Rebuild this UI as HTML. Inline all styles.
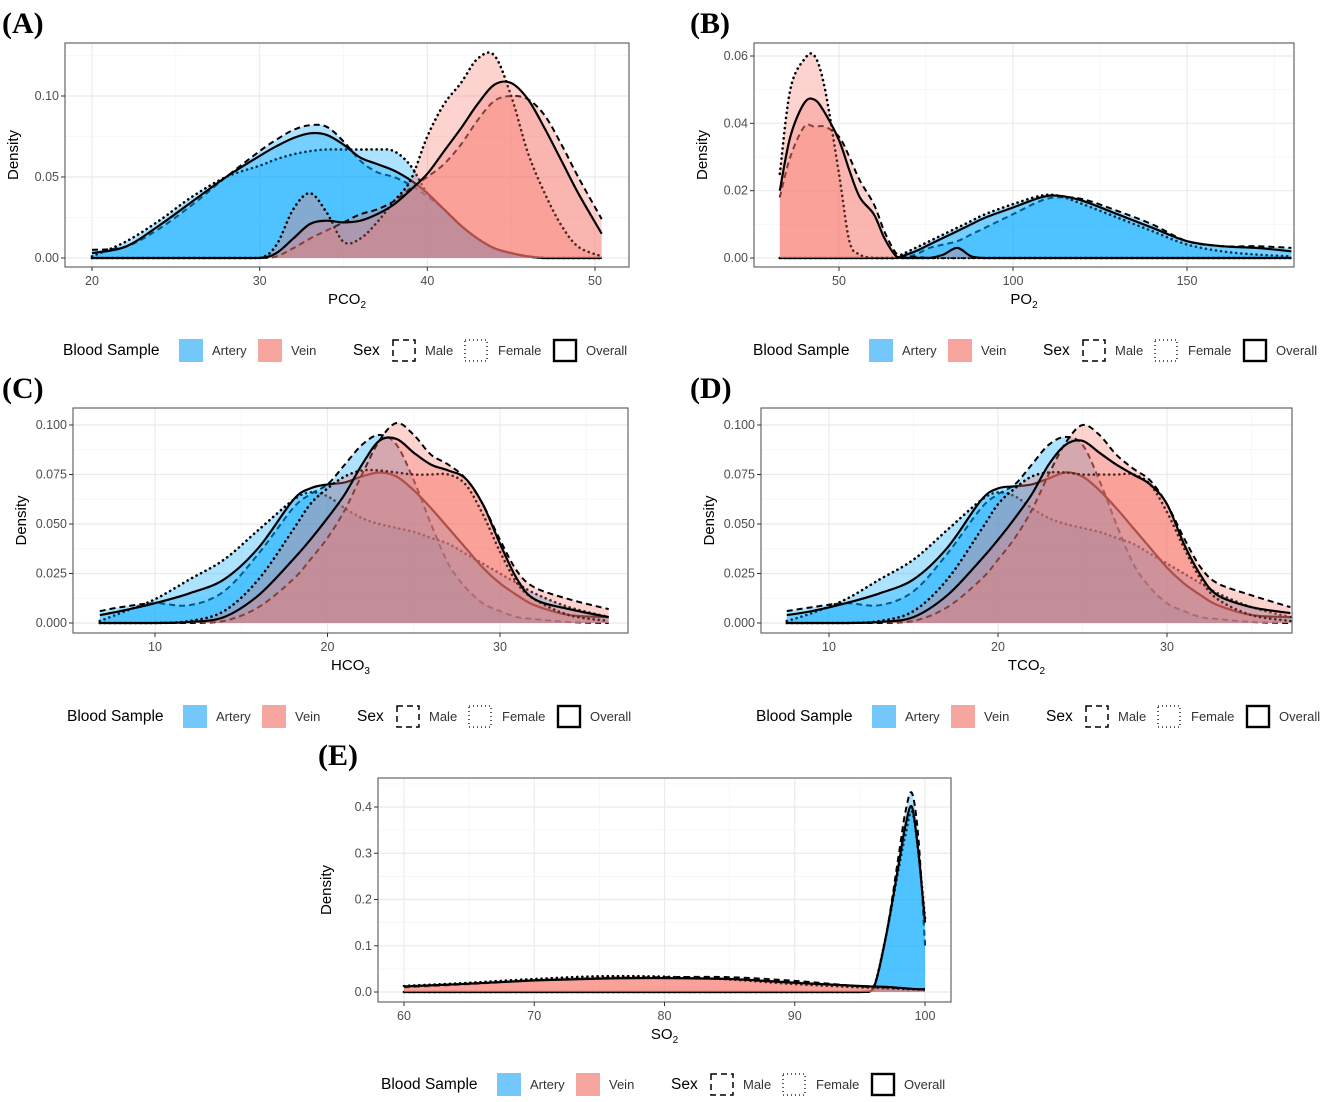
<!DOCTYPE html>
<html><head><meta charset="utf-8">
<style>
html,body{margin:0;padding:0;background:#fff;}
svg{display:block;font-family:"Liberation Sans",sans-serif;}
</style></head>
<body>
<svg id="fig" width="1325" height="1102" viewBox="0 0 1325 1102" xmlns="http://www.w3.org/2000/svg"></svg>
<script>
// ---------- DATA ----------
const pco2X = [20,22,24,26,28,30,31,32,33,34,35,36,37,38,39,40,41,42,43,44,45,46,47,48,49,50.4];
const pco2ArteryMale    = [0.005,0.007,0.018,0.033,0.05,0.066,0.073,0.079,0.082,0.081,0.072,0.06,0.053,0.05,0.045,0.038,0.03,0.02,0.012,0.006,0.003,0.001,0,0,0,0];
const pco2ArteryFemale  = [0.001,0.01,0.023,0.038,0.05,0.057,0.061,0.064,0.066,0.067,0.067,0.067,0.067,0.066,0.057,0.04,0.03,0.02,0.012,0.006,0.003,0.001,0,0,0,0];
const pco2ArteryOverall = [0.003,0.007,0.02,0.035,0.05,0.063,0.069,0.074,0.077,0.076,0.07,0.062,0.058,0.054,0.048,0.04,0.03,0.02,0.012,0.006,0.003,0.001,0,0,0,0];
const pco2VeinMale      = [0,0,0,0,0,0,0.001,0.006,0.012,0.017,0.022,0.027,0.03,0.035,0.043,0.05,0.058,0.07,0.085,0.097,0.1,0.098,0.088,0.07,0.05,0.024];
const pco2VeinFemale    = [0,0,0,0,0,0,0.008,0.03,0.04,0.028,0.01,0.012,0.022,0.035,0.048,0.075,0.095,0.108,0.123,0.125,0.1,0.065,0.04,0.02,0.007,0.001];
const pco2VeinOverall   = [0,0,0,0,0,0,0.003,0.012,0.021,0.023,0.022,0.023,0.027,0.033,0.042,0.052,0.066,0.08,0.095,0.107,0.108,0.098,0.08,0.06,0.04,0.015];

const po2X = [33,36,40,43,46,50,53,56,60,63,66,68,72,76,80,84,88,92,100,108,113,120,130,140,150,160,170,180];
const po2ArteryMale    = [0,0,0,0,0,0,0,0,0,0,0,0,0.001,0.003,0.004,0.005,0.007,0.009,0.013,0.017,0.018,0.0175,0.014,0.01,0.005,0.0035,0.0035,0.003];
const po2ArteryFemale  = [0,0,0,0,0,0,0,0,0,0,0,0.001,0.003,0.005,0.007,0.009,0.011,0.013,0.016,0.0185,0.0185,0.016,0.012,0.008,0.004,0.002,0.001,0.0005];
const po2ArteryOverall = [0,0,0,0,0,0,0,0,0,0,0,0.0005,0.002,0.004,0.006,0.008,0.01,0.012,0.015,0.018,0.0185,0.017,0.013,0.009,0.005,0.0035,0.003,0.002];
const po2VeinMale      = [0.018,0.03,0.039,0.039,0.039,0.036,0.03,0.023,0.016,0.008,0.002,0.0005,0.0003,0,0,0,0,0,0,0,0,0,0,0,0,0,0,0];
const po2VeinFemale    = [0.025,0.05,0.059,0.06,0.05,0.025,0.005,0.001,0,0,0,0,0,0,0,0,0,0,0,0,0,0,0,0,0,0,0,0];
const po2VeinOverall   = [0.02,0.036,0.046,0.047,0.043,0.035,0.026,0.018,0.013,0.006,0.001,0,0,0,0.001,0.003,0.0005,0,0,0,0,0,0,0,0,0,0,0];

const hco3X = [6.8,8,10,12,14,16,18,19,20,21,22,23,24,25,26,27,28,29,30,31,32,34,36.3];
const hco3ArteryMale    = [0.006,0.008,0.01,0.009,0.016,0.035,0.058,0.065,0.07,0.08,0.09,0.095,0.09,0.072,0.05,0.03,0.018,0.01,0.006,0.003,0.002,0.0005,0];
const hco3ArteryFemale  = [0.001,0.005,0.012,0.022,0.032,0.047,0.062,0.066,0.064,0.058,0.053,0.05,0.048,0.046,0.043,0.04,0.035,0.03,0.025,0.02,0.015,0.008,0.003];
const hco3ArteryOverall = [0.004,0.006,0.01,0.015,0.022,0.038,0.062,0.068,0.07,0.071,0.074,0.076,0.074,0.067,0.058,0.048,0.038,0.028,0.02,0.014,0.009,0.004,0.003];
const hco3VeinMale      = [0,0,0,0,0.001,0.008,0.022,0.032,0.043,0.057,0.075,0.092,0.101,0.095,0.085,0.08,0.073,0.06,0.042,0.026,0.018,0.012,0.007];
const hco3VeinFemale    = [0,0,0,0.001,0.006,0.022,0.047,0.06,0.068,0.074,0.077,0.077,0.076,0.075,0.075,0.075,0.07,0.055,0.036,0.02,0.012,0.004,0.001];
const hco3VeinOverall   = [0,0,0,0.0005,0.003,0.014,0.032,0.042,0.053,0.065,0.08,0.092,0.093,0.086,0.08,0.077,0.073,0.06,0.04,0.022,0.012,0.007,0.003];

const tco2X = [7.5,9,11,13,15,17,19,20,21,22,23,24,25,26,27,28,29,30,31,32,33,35,37.3];
const tco2ArteryMale    = [0.006,0.008,0.01,0.009,0.016,0.035,0.058,0.065,0.07,0.08,0.09,0.094,0.09,0.072,0.05,0.03,0.018,0.01,0.006,0.003,0.002,0.0005,0];
const tco2ArteryFemale  = [0.001,0.005,0.012,0.022,0.032,0.047,0.062,0.066,0.064,0.058,0.053,0.05,0.048,0.046,0.043,0.04,0.035,0.03,0.025,0.02,0.015,0.008,0.003];
const tco2ArteryOverall = [0.004,0.006,0.01,0.015,0.022,0.038,0.062,0.068,0.069,0.07,0.073,0.076,0.074,0.067,0.058,0.048,0.038,0.028,0.02,0.014,0.009,0.004,0.003];
const tco2VeinMale      = [0,0,0,0,0.001,0.008,0.022,0.032,0.043,0.057,0.075,0.091,0.1,0.095,0.085,0.078,0.072,0.06,0.043,0.028,0.02,0.014,0.008];
const tco2VeinFemale    = [0,0,0,0.001,0.006,0.022,0.047,0.06,0.068,0.074,0.076,0.076,0.075,0.075,0.075,0.075,0.07,0.056,0.038,0.022,0.012,0.004,0.001];
const tco2VeinOverall   = [0,0,0,0.0005,0.003,0.014,0.032,0.042,0.053,0.065,0.08,0.09,0.092,0.086,0.08,0.075,0.07,0.06,0.04,0.024,0.014,0.008,0.005];

const so2X = [60,65,70,75,80,85,90,95,96,97,98,98.5,99,99.5,100];
const so2ArteryMale    = [0,0,0,0,0,0,0,0,0.004,0.12,0.3,0.39,0.43,0.33,0.1];
const so2ArteryFemale  = [0,0,0,0,0,0,0,0,0.006,0.12,0.27,0.34,0.39,0.3,0.16];
const so2ArteryOverall = [0,0,0,0,0,0,0,0,0.005,0.12,0.28,0.36,0.4,0.3,0.15];
const so2VeinMale      = [0.01,0.017,0.025,0.03,0.032,0.032,0.024,0.012,0.01,0.009,0.008,0.007,0.007,0.006,0.006];
const so2VeinFemale    = [0.013,0.02,0.028,0.034,0.033,0.027,0.017,0.01,0.009,0.008,0.007,0.006,0.006,0.005,0.005];
const so2VeinOverall   = [0.012,0.018,0.025,0.029,0.03,0.028,0.02,0.013,0.012,0.011,0.009,0.008,0.007,0.006,0.006];

const pco2XTicks = [20,30,40,50];  const pco2YTicks = ["0.00","0.05","0.10"];
const po2XTicks = [50,100,150];    const po2YTicks = ["0.00","0.02","0.04","0.06"];
const hco3XTicks = [10,20,30];     const hco3YTicks = ["0.000","0.025","0.050","0.075","0.100"];
const tco2XTicks = [10,20,30];     const tco2YTicks = ["0.000","0.025","0.050","0.075","0.100"];
const so2XTicks = [60,70,80,90,100]; const so2YTicks = ["0.0","0.1","0.2","0.3","0.4"];

// ---------- RENDER ----------
const NS="http://www.w3.org/2000/svg";
const svg=document.getElementById('fig');
function mk(tag,attrs,parent){const e=document.createElementNS(NS,tag);for(const k in attrs)e.setAttribute(k,attrs[k]);(parent||svg).appendChild(e);return e;}

const panels=[
 {id:'a',label:'(A)',lx:2,ly:33,L:65,R:629,T:43,B:267,x0:20,px0:92,x1:50,px1:595,y0:258,ytop:96,yv:0.1,
  X:pco2X,S:[pco2ArteryMale,pco2ArteryFemale,pco2ArteryOverall,pco2VeinMale,pco2VeinFemale,pco2VeinOverall],
  xt:pco2XTicks,yt:pco2YTicks,title:'PCO',sub:'2',tty:304,legX:63,legY:350},
 {id:'b',label:'(B)',lx:690,ly:33,L:754,R:1294,T:43,B:267,x0:50,px0:839,x1:150,px1:1187,y0:258,ytop:56,yv:0.06,
  X:po2X,S:[po2ArteryMale,po2ArteryFemale,po2ArteryOverall,po2VeinMale,po2VeinFemale,po2VeinOverall],
  xt:po2XTicks,yt:po2YTicks,title:'PO',sub:'2',tty:304,legX:753,legY:350},
 {id:'c',label:'(C)',lx:2,ly:398,L:73,R:628,T:408,B:633,x0:10,px0:155,x1:30,px1:500,y0:623,ytop:425,yv:0.1,
  X:hco3X,S:[hco3ArteryMale,hco3ArteryFemale,hco3ArteryOverall,hco3VeinMale,hco3VeinFemale,hco3VeinOverall],
  xt:hco3XTicks,yt:hco3YTicks,title:'HCO',sub:'3',tty:670,legX:67,legY:716},
 {id:'d',label:'(D)',lx:690,ly:398,L:761,R:1292,T:408,B:633,x0:10,px0:829,x1:30,px1:1167,y0:623,ytop:425,yv:0.1,
  X:tco2X,S:[tco2ArteryMale,tco2ArteryFemale,tco2ArteryOverall,tco2VeinMale,tco2VeinFemale,tco2VeinOverall],
  xt:tco2XTicks,yt:tco2YTicks,title:'TCO',sub:'2',tty:670,legX:756,legY:716},
 {id:'e',label:'(E)',lx:318,ly:765,L:378,R:951,T:778,B:1002,x0:60,px0:404,x1:100,px1:925,y0:992,ytop:807,yv:0.4,
  X:so2X,S:[so2ArteryMale,so2ArteryFemale,so2ArteryOverall,so2VeinMale,so2VeinFemale,so2VeinOverall],
  xt:so2XTicks,yt:so2YTicks,title:'SO',sub:'2',tty:1039,legX:381,legY:1084}
];
const names=['artery-male','artery-female','artery-overall','vein-male','vein-female','vein-overall'];
const dash=['6,4','0.1,5',null,'6,4','0.1,5',null];

function curve(pts,base){
  let d='M'+pts[0][0].toFixed(1)+','+pts[0][1].toFixed(1);
  for(let i=0;i<pts.length-1;i++){
    const p0=pts[Math.max(0,i-1)],p1=pts[i],p2=pts[i+1],p3=pts[Math.min(pts.length-1,i+2)];
    const c1x=p1[0]+(p2[0]-p0[0])/6,c1y=Math.min(base,p1[1]+(p2[1]-p0[1])/6);
    const c2x=p2[0]-(p3[0]-p1[0])/6,c2y=Math.min(base,p2[1]-(p3[1]-p1[1])/6);
    d+=' C'+c1x.toFixed(1)+','+c1y.toFixed(1)+' '+c2x.toFixed(1)+','+c2y.toFixed(1)+' '+p2[0].toFixed(1)+','+p2[1].toFixed(1);
  }
  return d;
}

panels.forEach(P=>{
  const sx=v=>P.px0+(v-P.x0)*(P.px1-P.px0)/(P.x1-P.x0);
  const sy=v=>P.y0-v*(P.y0-P.ytop)/P.yv;
  const g=mk('g',{});
  
  
  const lab=mk('text',{x:P.lx,y:P.ly,'font-family':'Liberation Serif, serif','font-weight':'bold','font-size':30,fill:'#000'},g);
  lab.textContent=P.label;
  
  
  const grid=mk('g',{},g);
  
  
  const xstep=P.xt[1]-P.xt[0];
  for(let v=P.xt[0]-xstep*2;v<=P.xt[P.xt.length-1]+xstep*2;v+=xstep/2){
    const x=sx(v); if(x<=P.L||x>=P.R) continue;
    const major=P.xt.indexOf(v)>=0;
    mk('line',{x1:x,x2:x,y1:P.T,y2:P.B,stroke:major?'#ebebeb':'#f4f4f4','stroke-width':major?1.2:0.7},grid);
  }
  const yvals=P.yt.map(parseFloat),ystep=yvals[1]-yvals[0];
  for(let k=-1;k<yvals.length*2+2;k++){
    const v=k*ystep/2; const y=sy(v); if(y<=P.T||y>=P.B) continue;
    const major=k%2===0;
    mk('line',{x1:P.L,x2:P.R,y1:y,y2:y,stroke:major?'#ebebeb':'#f4f4f4','stroke-width':major?1.2:0.7},grid);
  }
  const cp=mk('clipPath',{id:'clip'+P.id},g);
  mk('rect',{x:P.L,y:P.T,width:P.R-P.L,height:P.B-P.T},cp);
  const series=mk('g',{'clip-path':'url(#clip'+P.id+')'},g);
  P.S.forEach((arr,si)=>{
    const pts=P.X.map((xv,i)=>[sx(xv),sy(arr[i])]);
    const c=curve(pts,sy(0));
    const fill=mk('path',{d:c+' L'+pts[pts.length-1][0].toFixed(1)+','+sy(0).toFixed(1)+' L'+pts[0][0].toFixed(1)+','+sy(0).toFixed(1)+' Z',
      fill:si<3?'#00A9FF':'#F8766D','fill-opacity':0.32,stroke:'none'},series);
    
    
    const fem=si%3===1;
    const ln=mk('path',{d:c,fill:'none',stroke:'#000','stroke-width':fem?2.6:(si%3===2?2.2:2),'stroke-linecap':fem?'round':'butt'},series);
    if(dash[si]) ln.setAttribute('stroke-dasharray',dash[si]);
    
    
  });
  const box=mk('rect',{x:P.L,y:P.T,width:P.R-P.L,height:P.B-P.T,fill:'none',stroke:'#666','stroke-width':1.2},g);
  
  
  P.xt.forEach(v=>{
    const x=sx(v);
    mk('line',{x1:x,x2:x,y1:P.B,y2:P.B+4,stroke:'#333','stroke-width':1},g);
    const t=mk('text',{x:x,y:P.B+18,'text-anchor':'middle','font-size':12.5,fill:'#4d4d4d'},g);
    t.textContent=v;
    
    
  });
  P.yt.forEach(s=>{
    const y=sy(parseFloat(s));
    mk('line',{x1:P.L-4,x2:P.L,y1:y,y2:y,stroke:'#333','stroke-width':1},g);
    const t=mk('text',{x:P.L-6,y:y+4,'text-anchor':'end','font-size':12.5,fill:'#4d4d4d'},g);
    t.textContent=s;
    
    
  });
  const xt=mk('text',{x:(P.L+P.R)/2,y:P.tty,'text-anchor':'middle','font-size':15,fill:'#000'},g);
  xt.textContent=P.title;
  const sub=mk('tspan',{'font-size':10,dy:4},xt); sub.textContent=P.sub;
  
  
  const yx=P.L-47, yc=(P.T+P.B)/2;
  const yt=mk('text',{x:yx,y:yc,'text-anchor':'middle','font-size':15,fill:'#000',transform:'rotate(-90 '+yx+' '+yc+')'},g);
  yt.textContent='Density';
  
  
  const L0=P.legX, cy=P.legY;
  const lg=mk('g',{},g);
  
  
  function txt(x,s,fs){const t=mk('text',{x:x,y:cy+5,'font-size':fs,fill:'#000'},lg);t.textContent=s;return t;}
  txt(L0,'Blood Sample',15.5);
  const k1=mk('rect',{x:L0+116,y:cy-11,width:24,height:23,fill:'#74c7fb'},lg);
  
  
  txt(L0+149,'Artery',13).setAttribute('fill','#333');
  const k2=mk('rect',{x:L0+195,y:cy-11,width:24,height:23,fill:'#f7a59f'},lg);
  
  
  txt(L0+228,'Vein',13).setAttribute('fill','#333');
  txt(L0+290,'Sex',15.5);
  const k3=mk('rect',{x:L0+330,y:cy-10,width:22,height:21,fill:'none',stroke:'#000','stroke-width':1.5,'stroke-dasharray':'6,4'},lg);
  
  
  txt(L0+362,'Male',13).setAttribute('fill','#333');
  const k4=mk('rect',{x:L0+402,y:cy-10,width:22,height:21,fill:'none',stroke:'#000','stroke-width':1.3,'stroke-dasharray':'1,3'},lg);
  
  
  txt(L0+435,'Female',13).setAttribute('fill','#333');
  const k5=mk('rect',{x:L0+491,y:cy-10,width:22,height:21,fill:'none',stroke:'#000','stroke-width':2.4},lg);
  
  
  txt(L0+523,'Overall',13).setAttribute('fill','#333');
});
</script>
</body></html>
